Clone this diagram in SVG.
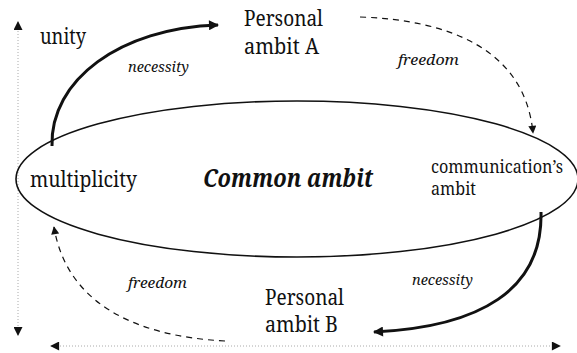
<svg xmlns="http://www.w3.org/2000/svg" width="577" height="353" viewBox="0 0 577 353">
  <style>
    text { font-family: "Noto Serif", "DejaVu Serif", "Liberation Serif", serif; fill: #111; }
    .lbl { font-size: 21px; }
    .sm { font-size: 18px; }
    .edge { font-size: 15px; font-style: italic; }
    .main { font-size: 25px; font-style: italic; font-weight: bold; }
    .thick { fill: none; stroke: #111; stroke-width: 3; }
    .dash { fill: none; stroke: #111; stroke-width: 1.2; stroke-dasharray: 6 5; }
    .axis { fill: none; stroke: #aaa; stroke-width: 1; stroke-dasharray: 1 2; }
  </style>
  <defs>
    <marker id="head" viewBox="0 0 10 10" refX="9" refY="5" markerWidth="10" markerHeight="8" markerUnits="userSpaceOnUse" orient="auto">
      <path d="M0,0 L10,5 L0,10 z" fill="#111"/>
    </marker>
    <marker id="headBig" viewBox="0 0 10 10" refX="9" refY="5" markerWidth="20" markerHeight="10" markerUnits="userSpaceOnUse" orient="auto">
      <path d="M0,0 L10,5 L0,10 z" fill="#111"/>
    </marker>
    <marker id="axisHead" viewBox="0 0 10 10" refX="9" refY="5" markerWidth="14" markerHeight="9" markerUnits="userSpaceOnUse" orient="auto-start-reverse">
      <path d="M0,0 L10,5 L0,10 z" fill="#111"/>
    </marker>
  </defs>

  <!-- axes: unity/multiplicity vertically, horizontal spread below -->
  <g id="axes">
    <line class="axis" x1="18" y1="22" x2="18" y2="335" marker-start="url(#axisHead)" marker-end="url(#axisHead)"/>
    <line class="axis" x1="51" y1="346" x2="560" y2="346" marker-start="url(#axisHead)" marker-end="url(#axisHead)"/>
  </g>

  <g id="common">
    <ellipse cx="297" cy="179" rx="281" ry="78" fill="none" stroke="#111" stroke-width="1.6"/>
    <text class="main" x="203" y="187" textLength="170" lengthAdjust="spacingAndGlyphs">Common ambit</text>
  </g>

  <g id="unity"><text class="lbl" x="40" y="44" textLength="46" lengthAdjust="spacingAndGlyphs">unity</text></g>
  <g id="multiplicity"><text class="lbl" x="30" y="187" textLength="107" lengthAdjust="spacingAndGlyphs">multiplicity</text></g>
  <g id="personalA">
    <text class="lbl" x="244" y="26" textLength="79" lengthAdjust="spacingAndGlyphs">Personal</text>
    <text class="lbl" x="244" y="54" textLength="75" lengthAdjust="spacingAndGlyphs">ambit A</text>
  </g>
  <g id="personalB">
    <text class="lbl" x="265" y="305" textLength="79" lengthAdjust="spacingAndGlyphs">Personal</text>
    <text class="lbl" x="265" y="332" textLength="73" lengthAdjust="spacingAndGlyphs">ambit B</text>
  </g>
  <g id="communication">
    <text class="sm" x="431" y="173" textLength="132" lengthAdjust="spacingAndGlyphs">communication’s</text>
    <text class="sm" x="431" y="195" textLength="45" lengthAdjust="spacingAndGlyphs">ambit</text>
  </g>

  <g id="connectors">
    <path class="thick" d="M52,146 C50,80 120,28 218,25" marker-end="url(#headBig)"/>
    <path class="dash" d="M360,17 C450,20 525,50 533,133" marker-end="url(#head)"/>
    <path class="thick" d="M541,212 C543,290 480,327 374,332" marker-end="url(#headBig)"/>
    <path class="dash" d="M225,341 C130,336 66,300 54,227" marker-end="url(#head)"/>
    <text class="edge" x="128" y="72" textLength="61" lengthAdjust="spacingAndGlyphs">necessity</text>
    <text class="edge" x="398" y="65" textLength="61" lengthAdjust="spacingAndGlyphs">freedom</text>
    <text class="edge" x="128" y="288" textLength="59" lengthAdjust="spacingAndGlyphs">freedom</text>
    <text class="edge" x="412" y="285" textLength="61" lengthAdjust="spacingAndGlyphs">necessity</text>
  </g>
</svg>
